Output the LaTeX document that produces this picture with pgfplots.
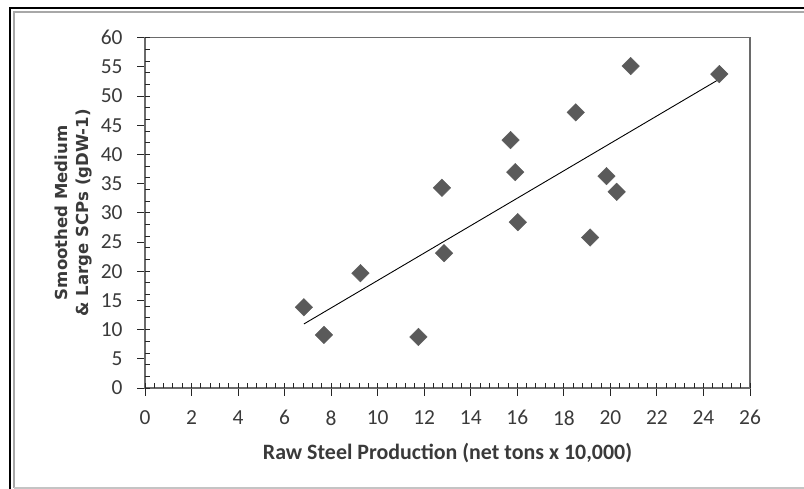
\documentclass[border=0pt]{standalone}
\usepackage{pgfplots}
\pgfplotsset{compat=1.18}
\usepackage{fontspec}
\setmainfont{Carlito}
\newfontfamily\ylabfont{DejaVu Sans}
\definecolor{mk}{HTML}{5A5A5A}
\definecolor{axgray}{HTML}{6A6A6A}
\definecolor{txt}{HTML}{3A3A3A}
\definecolor{frameinner}{HTML}{A8A8A8}
\definecolor{framebottom}{HTML}{C4C4C4}
\begin{document}
\begin{tikzpicture}[x=1bp,y=1bp]
\useasboundingbox (0,0) rectangle (804,489);
% outer frame
\draw[black, line width=2bp] (10,-5) -- (10,481) -- (820,481);
\draw[frameinner, line width=2bp] (14,1) -- (14,476.5) -- (820,476.5);
\draw[framebottom, line width=1.5bp] (14,1) -- (820,1);
\begin{axis}[
  at={(145bp,101bp)}, anchor=south west,
  scale only axis, width=605bp, height=350.3bp,
  xmin=0, xmax=26, ymin=0, ymax=60,
  xtick={0,2,...,26}, ytick={0,5,...,60},
  tick align=outside, tick pos=left,
  major tick length=8bp,
  extra x ticks={0,0.4,...,26}, extra x tick labels={},
  extra y ticks={0,2,...,60}, extra y tick labels={},
  extra x tick style={tick align=inside, major tick length=5bp, tick pos=left},
  extra y tick style={tick align=inside, major tick length=5bp, tick pos=left},
  axis line style={axgray, line width=1.3bp},
  every tick/.style={black!85, line width=0.9bp},
  /pgf/number format/assume math mode=true,
  ticklabel style={font=\fontsize{21.5}{25}\selectfont, text=txt},
  xticklabel style={yshift=-11bp},
  yticklabel style={xshift=-11bp},
  xlabel={Raw Steel Production (net tons x 10,000)},
  xlabel style={font=\bfseries\fontsize{22}{26}\selectfont, text=txt, yshift=-3bp},
  ylabel={Smoothed Medium\\\& Large SCPs (gDW-1)},
  ylabel style={font=\ylabfont\bfseries\fontsize{16.6}{21}\selectfont, text=txt, align=center},
  ylabel shift=-6bp,
]
\addplot[only marks, mark=square*, mark size=6.2bp,
  mark options={rotate=45, fill=mk, draw=mk}] coordinates {
  (6.83,13.83) (7.69,9.09) (9.26,19.66) (11.75,8.74) (12.76,34.29)
  (12.85,23.09) (15.71,42.46) (15.91,36.97) (16.02,28.40) (18.51,47.20)
  (19.13,25.77) (19.83,36.29) (20.27,33.60) (20.87,55.14) (24.68,53.77)
};
% linear trend line
\addplot[black, line width=0.9bp] coordinates {(6.83,10.97) (24.68,52.90)};
\end{axis}
\end{tikzpicture}
\end{document}
